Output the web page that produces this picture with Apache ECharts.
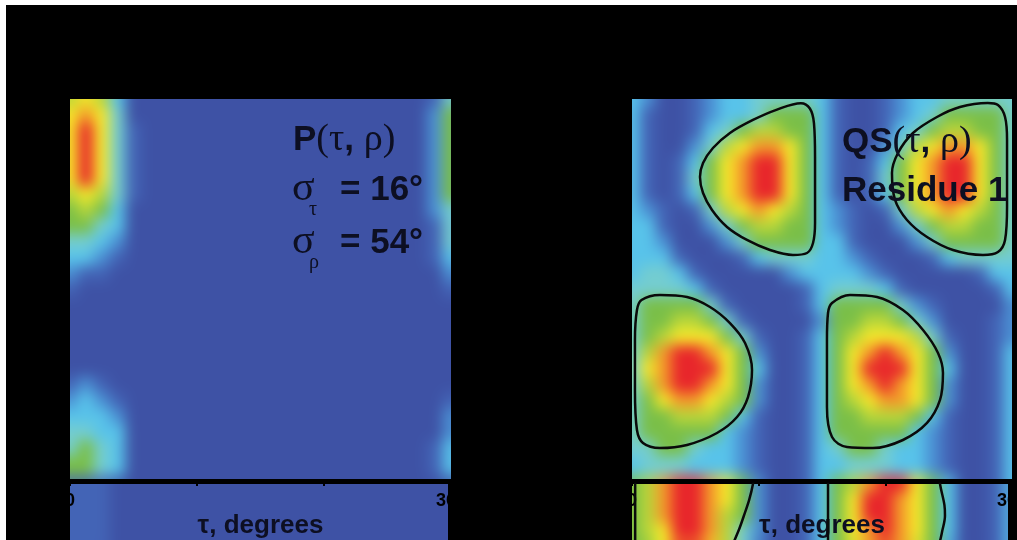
<!DOCTYPE html>
<html>
<head>
<meta charset="utf-8">
<script src="https://cdn.jsdelivr.net/npm/echarts@6/dist/echarts.min.js"></script>
<style>
  html, body { margin: 0; padding: 0; background: #fff; width: 1017px; height: 540px; overflow: hidden; }
  #frame { position: absolute; left: 6px; top: 5px; width: 1011px; height: 535px; background: #000; }
  #field, #marks, #smooth { position: absolute; left: 0; top: 0; width: 1017px; height: 540px; }
  #field { visibility: hidden; }
</style>
</head>
<body>
<div id="frame"></div>
<div id="field"></div>
<canvas id="smooth" width="1017" height="540"></canvas>
<div id="marks"></div>
<script>
// ---- grid axes (degrees) ----
const tauCategories = ['0','15','30','45','60','75','90','105','120','135','150','165','180',
  '195','210','225','240','255','270','285','300','315','330','345','360'];
const rhoCategories = ['360','345','330','315','300','285','270','255','240','225','210','195','180',
  '165','150','135','120','105','90','75','60','45','30','15','0'];
const rhoCategoriesLower = ['360','345','330','315','300'];
const tauTickValues = [0, 120, 240, 360];
const tauLabelledTicks = [0, 360];

// ---- P(tau, rho): relative level 0..9, rows from rho = 360 (top) to rho = 0 ----
const pRows = [
  '67630 00000 00000 00000 00014',
  '78740 00000 00000 00000 00025',
  '79741 00000 00000 00000 00025',
  '79741 00000 00000 00000 00025',
  '79741 00000 00000 00000 00025',
  '79741 00000 00000 00000 00025',
  '67641 00000 00000 00000 00025',
  '56530 00000 00000 00000 00024',
  '55430 00000 00000 00000 00014',
  '44320 00000 00000 00000 00014',
  '33210 00000 00000 00000 00013',
  '21100 00000 00000 00000 00002',
  '10000 00000 00000 00000 00001',
  '00000 00000 00000 00000 00000',
  '00000 00000 00000 00000 00000',
  '00000 00000 00000 00000 00000',
  '00000 00000 00000 00000 00000',
  '00000 00000 00000 00000 00000',
  '12100 00000 00000 00000 00000',
  '23210 00000 00000 00000 00001',
  '33320 00000 00000 00000 00002',
  '44330 00000 00000 00000 00002',
  '45430 00000 00000 00000 00013',
  '55430 00000 00000 00000 00013',
  '55430 00000 00000 00000 00013'
];

// ---- QS(tau, rho), residue 1 ----
const qsRows = [
  '32001 23344 44310 01233 44444',
  '31001 23345 55310 01234 55554',
  '31001 34566 55310 01345 66554',
  '31002 46788 75310 02467 88754',
  '31013 57899 75310 13578 99754',
  '31014 57899 75310 14578 99754',
  '31013 57899 75310 13578 99754',
  '32101 46787 65321 01467 87654',
  '33100 24566 55321 00245 66554',
  '33200 02455 55331 00024 55554',
  '33310 00134 44332 10001 34444',
  '34431 00000 23333 21000 00133',
  '44443 10000 01344 43100 00013',
  '45555 41000 01355 55421 00002',
  '45566 54100 00255 66542 00012',
  '45677 75410 01356 77764 10012',
  '46899 87520 01357 89875 20013',
  '47899 97530 01357 99975 30013',
  '46899 87520 01357 89875 20013',
  '45788 76520 01356 78875 20013',
  '45566 65310 01355 66653 10013',
  '45555 53210 01355 55532 10013',
  '44554 33210 01345 54332 10013',
  '34443 33210 01334 44332 10013',
  '33443 33210 01334 43332 10013'
];

// ---- lower row of panels (top rows only) ----
const pLowerRows = [
  '11100 00000 00000 00000 00000',
  '11100 00000 00000 00000 00000',
  '11100 00000 00000 00000 00000',
  '11100 00000 00000 00000 00000',
  '11100 00000 00000 00000 00000'
];
const qsLowerRows = [
  '56899 87520 01356 89975 30013',
  '56899 87520 01357 99875 30013',
  '56899 86520 01357 99875 30013',
  '56799 86420 01357 89875 30013',
  '55788 76410 01356 88865 20013'
];

// ---- half-maximum contours of QS, [tau, rho] ----
const contourA = [[173.4,270],[173.4,305],[172.4,337],[168.5,351],[160,356],[137.4,350],[114.6,340.2],
  [92.8,327.9],[76.7,313.7],[67.3,299.5],[64.4,286.3],[67.3,271.2],[75.8,255.1],[90,239.1],[108.9,226.8],
  [130.7,217.3],[152.5,212.6],[165.8,214.5],[171.5,223.9],[173.4,242.8],[173.4,270]];
const contourB = [[355.3,270],[355.3,321.3],[353.4,343],[346.7,354.3],[337,356.2],[310.7,352.4],[288.9,343],
  [266.2,327.9],[252,309],[246.3,290.1],[249.2,264.6],[260.5,245.7],[279.5,229.6],[304.1,217.3],
  [332.5,212.6],[346.7,215.4],[353.4,226.8],[355.3,258],[355.3,270]];
const contourC = [[2.8,110],[2.8,132.3],[4.7,160.6],[9,170.1],[26.5,174.8],[52.1,172.9],[73.9,163.5],
  [92.8,148.3],[107.1,129.4],[113.7,103.9],[109.9,78.4],[99.5,59.5],[80.5,44.4],[52.1,33.1],[26.5,30.2],
  [10.4,35],[4.7,47.2],[2.8,85],[2.8,110]];
const contourD = [[184.7,100],[184.7,132.3],[185.7,157.8],[189.5,167.2],[206.5,174.8],[232.1,172.9],
  [256.7,160.6],[275.7,141.7],[289.9,120],[294.6,101.1],[291.8,75.6],[279.5,53.9],[256.7,37.8],
  [228.3,30.2],[203.7,31.2],[189.5,40.6],[184.7,69],[184.7,100]];
const contourLowerE1 = [[116,372],[114.6,360],[111,345],[106,330],[101,316],[93,298],[85,285]];
const contourLowerE2 = [[3,372],[3,280]];
const contourLowerF1 = [[185.7,372],[185.7,280]];
const contourLowerF2 = [[291,372],[291.8,360],[296,340],[296.5,330],[294,316],[290,300],[284,288]];

// ---- colour scale for levels 0..9 ----
const levelColors = ['#3e52a5','#4364b6','#4b91d4','#58c3ea','#74cdd0','#7abf48',
  '#b8d63a','#f6e92a','#f39a2a','#e8262b'];

// ---- layout (visible width may be narrower than the plotted span for the lower row) ----
const panels = {
  tl: { left: 70,  top: 99,  width: 381, height: 381, shown: 381 },
  tr: { left: 632, top: 99,  width: 380, height: 381, shown: 380 },
  bl: { left: 70,  top: 484, width: 381, height: 381, shown: 378 },
  br: { left: 632, top: 484, width: 380, height: 381, shown: 376 }
};
const ink = '#0d0f22';

function cells(rows) {
  const out = [];
  rows.forEach((row, r) => {
    const s = row.replace(/ /g, '');
    for (let c = 0; c < s.length; c++) out.push([c, r, Number(s[c])]);
  });
  return out;
}
// heatmap cells are centred on the sample angles, so the band grid reaches half a cell past each edge
function cellGrid(p, nRows) {
  const cw = p.width / (tauCategories.length - 1);
  const ch = p.height / (rhoCategories.length - 1);
  return { left: p.left - cw / 2, top: p.top - ch / 2, width: cw * tauCategories.length,
           height: ch * nRows, containLabel: false, outerBoundsMode: 'none' };
}
function plotRect(p) {
  return { left: p.left, top: p.top, width: p.width, height: p.height, containLabel: false, outerBoundsMode: 'none' };
}

const fieldSets = [
  { p: panels.tl, rows: pRows, rho: rhoCategories },
  { p: panels.tr, rows: qsRows, rho: rhoCategories },
  { p: panels.bl, rows: pLowerRows, rho: rhoCategoriesLower },
  { p: panels.br, rows: qsLowerRows, rho: rhoCategoriesLower }
];

const field = echarts.init(document.getElementById('field'), null, { renderer: 'canvas', devicePixelRatio: 1 });
field.setOption({
  animation: false,
  grid: fieldSets.map(f => cellGrid(f.p, f.rows.length)),
  xAxis: fieldSets.map((f, i) => ({ type: 'category', gridIndex: i, data: tauCategories, show: false })),
  yAxis: fieldSets.map((f, i) => ({ type: 'category', gridIndex: i, data: f.rho, inverse: true, show: false })),
  visualMap: { type: 'continuous', min: 0, max: 9, show: false, seriesIndex: [0, 1, 2, 3],
               inRange: { color: levelColors } },
  series: fieldSets.map((f, i) => ({
    type: 'heatmap', xAxisIndex: i, yAxisIndex: i, data: cells(f.rows),
    itemStyle: { borderWidth: 0 }, emphasis: { disabled: true }, silent: true
  }))
});

// Smooth the sampled surfaces: three box passes per panel (≈ gaussian), edges clamped
function smoothPanels() {
  const zr = field.getZr();
  if (zr && zr.flush) zr.flush();
  const srcCanvas = field.getDom().querySelector('canvas');
  const W = 1017, H = 540;
  const px = srcCanvas.getContext('2d').getImageData(0, 0, W, H).data;
  const out = document.getElementById('smooth').getContext('2d');
  const outImg = out.createImageData(W, H);
  const o = outImg.data;
  const r = 6, passes = 3, norm = 1 / (2 * r + 1);
  Object.values(panels).forEach(p => {
    const x0 = p.left, y0 = p.top, w = p.shown, h = Math.min(p.height, H - p.top);
    const n = w * h;
    const chans = [new Float32Array(n), new Float32Array(n), new Float32Array(n)];
    for (let y = 0; y < h; y++) for (let x = 0; x < w; x++) {
      const i = ((y0 + y) * W + x0 + x) * 4, k = y * w + x;
      chans[0][k] = px[i]; chans[1][k] = px[i + 1]; chans[2][k] = px[i + 2];
    }
    const tmp = new Float32Array(n);
    chans.forEach(a => {
      for (let pass = 0; pass < passes; pass++) {
        for (let y = 0; y < h; y++) {
          const row = y * w; let s = 0;
          for (let k = -r; k <= r; k++) s += a[row + Math.min(w - 1, Math.max(0, k))];
          for (let x = 0; x < w; x++) {
            tmp[row + x] = s * norm;
            s += a[row + Math.min(w - 1, x + r + 1)] - a[row + Math.max(0, x - r)];
          }
        }
        for (let x = 0; x < w; x++) {
          let s = 0;
          for (let k = -r; k <= r; k++) s += tmp[Math.min(h - 1, Math.max(0, k)) * w + x];
          for (let y = 0; y < h; y++) {
            a[y * w + x] = s * norm;
            s += tmp[Math.min(h - 1, y + r + 1) * w + x] - tmp[Math.max(0, y - r) * w + x];
          }
        }
      }
    });
    for (let y = 0; y < h; y++) for (let x = 0; x < w; x++) {
      const i = ((y0 + y) * W + x0 + x) * 4, k = y * w + x;
      o[i] = chans[0][k]; o[i + 1] = chans[1][k]; o[i + 2] = chans[2][k]; o[i + 3] = 255;
    }
  });
  out.putImageData(outImg, 0, 0);
}
smoothPanels();

// ---- axes, contours and annotations ----
const marks = echarts.init(document.getElementById('marks'), null, { renderer: 'canvas' });
function tauAxis(gridIndex) {
  return {
    type: 'value', gridIndex, min: tauTickValues[0], max: tauTickValues[tauTickValues.length - 1],
    interval: tauTickValues[1] - tauTickValues[0],
    axisLine: { show: true, lineStyle: { color: '#000', width: 2 } },
    axisTick: { show: true, inside: false, length: 6, lineStyle: { color: '#000', width: 2 } },
    axisLabel: { show: true, color: '#000', fontSize: 18, fontWeight: 'bold',
                 fontFamily: '"Liberation Sans", Arial, sans-serif', margin: 12,
                 showMinLabel: true, showMaxLabel: true,
                 formatter: v => (tauLabelledTicks.includes(v) ? String(v) : '') },
    splitLine: { show: false },
    name: 'τ, degrees', nameLocation: 'middle', nameGap: 33, nameMoveOverlap: false,
    nameTextStyle: { color: ink, fontSize: 26, fontWeight: 'bold',
                     fontFamily: '"Liberation Sans", Arial, sans-serif' }
  };
}
function hiddenAxis(gridIndex) {
  return { type: 'value', gridIndex, min: 0, max: 360, show: false, splitLine: { show: false } };
}
function contour(data, axisIndex) {
  return { type: 'line', xAxisIndex: axisIndex, yAxisIndex: axisIndex, data, smooth: 0.35,
           showSymbol: false, symbol: 'none', clip: true, silent: true,
           lineStyle: { color: '#0a0a0a', width: 2.5 } };
}
const sans = '"Liberation Sans", Arial, sans-serif';
const serif = '"Liberation Serif", "Times New Roman", serif';
function label(x, y, text, rich) {
  return { type: 'text', x, y, z: 100, silent: true,
           style: { text, rich, fill: ink, align: 'left', verticalAlign: 'middle' } };
}
const richTitle = {
  b: { fontFamily: sans, fontWeight: 'bold', fontSize: 35, fill: ink },
  s: { fontFamily: serif, fontSize: 38, fill: ink }
};
const richSub = {
  g: { fontFamily: serif, fontSize: 42, fill: ink }
};
const richSmall = {
  g: { fontFamily: serif, fontSize: 20, fill: ink }
};

marks.setOption({
  animation: false,
  backgroundColor: 'transparent',
  grid: [panels.tl, panels.tr, panels.br].map(plotRect),
  xAxis: [tauAxis(0), tauAxis(1), hiddenAxis(2)],
  yAxis: [hiddenAxis(0), hiddenAxis(1), hiddenAxis(2)],
  series: [
    contour(contourA, 1), contour(contourB, 1), contour(contourC, 1), contour(contourD, 1),
    contour(contourLowerE1, 2), contour(contourLowerE2, 2), contour(contourLowerF1, 2), contour(contourLowerF2, 2)
  ],
  graphic: [
    label(293, 140, '{b|P}{s|(τ}{b|, }{s|ρ)}', richTitle),
    label(292, 189, '{g|σ}', richSub),
    label(309, 210, '{g|τ}', richSmall),
    label(340, 190, '{b|= 16°}', richTitle),
    label(292, 242, '{g|σ}', richSub),
    label(309, 263, '{g|ρ}', richSmall),
    label(340, 243, '{b|= 54°}', richTitle),
    label(842, 142, '{b|QS}{s|(τ}{b|, }{s|ρ)}', richTitle),
    label(842, 191, '{b|Residue 1}', richTitle)
  ]
});
</script>
</body>
</html>
